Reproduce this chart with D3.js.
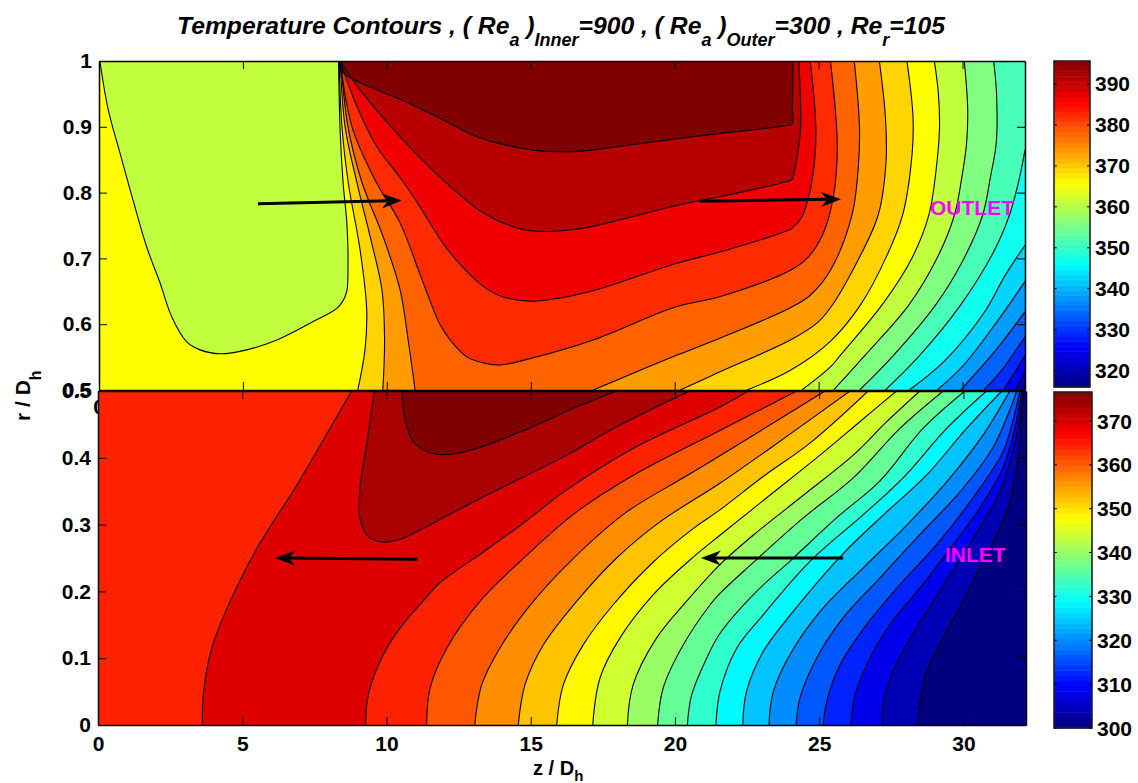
<!DOCTYPE html>
<html>
<head>
<meta charset="utf-8">
<script src="https://cdnjs.cloudflare.com/ajax/libs/d3/7.8.5/d3.min.js"></script>
<style>
html, body { margin: 0; background: #fff; }
svg text { font-family: "Liberation Sans", Arial, sans-serif; font-weight: bold; fill: #000; }
.tick line, .domain { stroke: #000; }
</style>
</head>
<body>
<svg id="chart" width="1138" height="783"></svg>
<script>
// values, all contours are [z/Dh, r/Dh]
const zMax = 32.17;
const zTicks = [0, 5, 10, 15, 20, 25, 30];
const upperRTicks = [0.5, 0.6, 0.7, 0.8, 0.9, 1];
const lowerRTicks = [0, 0.1, 0.2, 0.3, 0.4, 0.5];
const upperBarTicks = [320, 330, 340, 350, 360, 370, 380, 390];
const lowerBarTicks = [300, 310, 320, 330, 340, 350, 360, 370];
const upperRange = [316, 395.6];
const lowerRange = [300, 376.6];

// upper panel (outlet), temperature of each filled band
const upperTemps = [316, 320.4, 324.8, 329.3, 333.7, 338.1, 342.5, 347, 351.4, 355.8, 360.9, 365.75, 369.1, 373.5, 377.9, 382.3, 386.8, 391.2, 395.6];

const u1 = [[32.05,.5],[32.17,.508]];
const u2 = [[31.84,.5],[32.17,.526]];
const u3 = [[31.43,.5],[32.17,.553]];
const u4 = [[30.74,.5],[31.32,.528],[32.17,.581]];
const u5 = [[29.93,.5],[31.2,.563],[32.17,.619]];
const u6 = [[29.12,.5],[30.04,.538],[31.2,.604],[32.17,.665]];
const u7 = [[28.15,.5],[29.35,.543],[30.74,.617],[31.49,.675],[32.17,.72]];
const u8 = [[27.32,.5],[28.48,.551],[29.93,.629],[31.08,.71],[31.63,.766],[31.94,.815],[32.17,.865]];
const u9 = [[26.43,.5],[27.61,.553],[29.06,.629],[29.99,.695],[30.7,.766],[30.97,.824],[31.17,.875],[31.18,.951],[31.08,1]];
const u10 = [[25.52,.5],[26.68,.556],[28.13,.629],[29.12,.701],[29.72,.766],[29.96,.819],[30.14,.875],[30.18,.926],[30.06,1]];
const u11 = [[24.42,.5],[25.41,.535],[25.76,.553],[27.25,.632],[28.25,.701],[28.83,.766],[29.12,.85],[29.2,.9],[29.16,.951],[29.02,1]];

const limeIsland = [[.03,1],[.32,.926],[.73,.86],[1.18,.789],[1.66,.717],[2.12,.663],[2.53,.611],[3.05,.573],[3.51,.561],[4.21,.555],[5.13,.561],[6.18,.576],[7.44,.604],[8.31,.626],[8.59,.647],[8.65,.687],[8.61,.754],[8.48,.815],[8.38,.891],[8.32,1]];

const u12Left = [[8.34,1],[8.44,.9],[8.66,.815],[9.07,.713],[9.3,.622],[9.24,.561],[8.99,.5]];
const u12Right = [[22.51,.5],[24.02,.53],[25.41,.574],[26.45,.629],[27.38,.705],[27.92,.766],[28.25,.86],[28.28,.915],[28.07,1]];
const u13Left = [[8.38,1],[8.55,.9],[8.96,.815],[9.42,.733],[9.83,.652],[9.92,.576],[9.86,.5]];
const u13Right = [[20.19,.5],[21.59,.528],[24.02,.576],[24.95,.602],[25.41,.625],[26.34,.695],[27.07,.766],[27.34,.845],[27.32,.915],[27.11,1]];
const u14Left = [[8.4,1],[8.65,.9],[9.14,.815],[9.87,.733],[10.46,.652],[10.74,.576],[10.98,.5]];
const u14Right = [[17.17,.5],[18.8,.53],[20.02,.552],[21.59,.579],[24.02,.625],[24.71,.644],[25.41,.682],[26.16,.766],[26.38,.839],[26.42,.9],[26.24,1]];
const u15 = [[8.38,1],[8.79,.9],[9.59,.819],[10.46,.754],[11.16,.675],[11.85,.599],[12.2,.576],[12.79,.55],[13.49,.54],[13.94,.538],[15.09,.549],[17.17,.576],[20.02,.626],[21.59,.642],[24.02,.682],[24.64,.702],[25.17,.739],[25.51,.793],[25.65,.865],[25.58,.926],[25.41,1]];
const u16 = [[8.38,1],[8.97,.93],[9.66,.869],[10.46,.823],[11.16,.778],[11.96,.722],[12.55,.691],[13.25,.661],[13.94,.643],[14.98,.635],[16.03,.64],[17.41,.654],[20.02,.692],[21.59,.71],[23.9,.742],[24.08,.746],[24.42,.763],[24.71,.804],[24.89,.865],[24.89,.915],[24.71,1]];
const u17 = [[8.38,1],[9.07,.956],[10.46,.885],[11.96,.819],[13.35,.769],[14.73,.744],[15.67,.741],[16.96,.747],[20.02,.78],[20.89,.788],[21.59,.794],[23.9,.817],[24.08,.82],[24.19,.839],[24.37,.895],[24.31,1]];
const u18 = [[8.32,1],[8.49,.982],[9.66,.956],[10.46,.942],[11.85,.913],[13.25,.883],[14.88,.866],[15.44,.863],[16.73,.863],[17.87,.869],[19.75,.88],[21.59,.89],[23.9,.902],[24.08,.904],[24.09,.93],[24.11,1]];

// lower panel (inlet)
const lowerTemps = [300, 304, 308, 312.1, 316.1, 320.2, 324.2, 328.2, 332.3, 336.3, 340.3, 344.3, 348.4, 352.4, 356.4, 360.5, 364.5, 369.5, 373.4, 376.6];

const l1 = [[28.41,0],[28.49,.035],[28.72,.08],[29.42,.14],[29.98,.185],[30.67,.245],[31.15,.284],[31.61,.334],[31.89,.4],[32.02,.46],[32.08,.5]];
const l2 = [[27.19,0],[27.22,.03],[27.51,.075],[28.15,.13],[28.84,.177],[29.65,.232],[30.57,.295],[31.27,.349],[31.72,.409],[31.96,.46],[32.06,.5]];
const l3 = [[26.1,0],[26.24,.045],[26.64,.09],[27.45,.15],[28.49,.205],[29.64,.27],[30.57,.325],[31.37,.385],[31.79,.445],[32.02,.5]];
const l4 = [[25.14,0],[25.26,.035],[25.72,.09],[26.64,.15],[27.8,.21],[29.07,.27],[30.33,.34],[31.37,.409],[31.8,.47],[31.96,.5]];
const l5 = [[24.2,0],[24.33,.04],[24.91,.1],[25.82,.16],[27.1,.22],[28.49,.285],[29.88,.349],[31.02,.415],[31.85,.5]];
const l6 = [[23.26,0],[23.41,.05],[24.05,.11],[25.13,.175],[26.52,.235],[28.03,.299],[29.42,.364],[30.68,.434],[31.61,.5]];
const l7 = [[22.35,0],[22.48,.05],[23.06,.11],[24.1,.17],[25.84,.257],[27.34,.319],[28.72,.374],[30.11,.444],[31.33,.5]];
const l8 = [[21.42,0],[21.56,.05],[22.14,.115],[23.06,.165],[24.68,.245],[26.53,.315],[27.91,.37],[29.42,.444],[30.8,.5]];
const l9 = [[20.43,0],[20.58,.045],[21.1,.1],[21.56,.137],[22.83,.2],[23.98,.245],[25.6,.31],[27.1,.365],[28.6,.444],[30.05,.5]];
const l10 = [[19.4,0],[19.59,.055],[20.29,.12],[21.22,.18],[21.56,.197],[22.71,.243],[24.45,.31],[26.18,.37],[27.8,.444],[29.3,.5]];
const l11 = [[18.35,0],[18.55,.06],[19.36,.13],[20.4,.185],[21.56,.24],[22.71,.284],[24.45,.344],[26.18,.404],[27.34,.454],[28.49,.5]];
const l12 = [[17.15,0],[17.4,.07],[18.09,.13],[19.25,.195],[20.52,.247],[21.56,.284],[23.29,.344],[25.03,.404],[26.41,.454],[27.68,.5]];
const l13 = [[15.9,0],[16.13,.06],[16.82,.12],[17.86,.18],[19.25,.244],[20.63,.294],[21.56,.322],[23.06,.372],[24.68,.422],[26.7,.5]];
const l14 = [[14.57,0],[14.8,.06],[15.44,.12],[16.59,.185],[17.98,.25],[19.48,.304],[21.56,.362],[23.29,.414],[26.07,.5]];
const l15 = [[13.06,0],[13.3,.06],[13.93,.115],[15.09,.185],[16.59,.254],[18.33,.319],[20.29,.37],[21.56,.403],[23.29,.449],[25.2,.5]];
const l16 = [[11.39,0],[11.51,.055],[12.09,.115],[13.24,.185],[14.86,.254],[16.59,.319],[18.56,.374],[21.56,.441],[24.22,.5]];
const l17Left = [[3.62,0],[3.65,.045],[3.94,.115],[4.58,.185],[5.5,.264],[6.89,.359],[8.04,.444],[8.79,.5]];
const l17Right = [[22.54,.5],[21.56,.476],[18.55,.414],[16.25,.352],[14.74,.302],[13.36,.259],[11.86,.213],[11.16,.18],[10.47,.145],[9.89,.105],[9.37,.045],[9.28,0]];
const l18 = [[9.58,.5],[9.31,.419],[9.08,.354],[9.08,.309],[9.37,.282],[9.83,.274],[10.47,.278],[11.16,.292],[13.01,.334],[14.17,.359],[16.25,.404],[18.09,.449],[20.52,.5]];
const l19 = [[10.53,.5],[10.64,.459],[10.93,.424],[11.62,.406],[12.37,.406],[13.47,.419],[15.09,.447],[16.48,.474],[17.98,.5]];

// arrows: from, to
const upperArrows = [[[5.52,.783],[10.52,.788]], [[20.86,.787],[25.78,.79]]];
const lowerArrows = [[[11.08,.248],[6.14,.25]], [[25.83,.25],[20.9,.25]]];

const titleParts = [
    ["Temperature Contours , ( Re", false], ["a", true], [" )", false], ["Inner", true],
    ["=900 , ( Re", false], ["a", true], [" )", false], ["Outer", true],
    ["=300 , Re", false], ["r", true], ["=105", false]
];

const jet = d3.scaleLinear()
    .domain([0, .125, .375, .625, .875, 1])
    .range(["#000080", "#0000ff", "#00ffff", "#ffff00", "#ff0000", "#800000"]);

const svg = d3.select("#chart");

const upper = {
    x: d3.scaleLinear().domain([0, zMax]).range([99, 1025]),
    y: d3.scaleLinear().domain([0.5, 1]).range([390, 61]),
    temp: d3.scaleLinear().domain(upperRange).range([0, 1]),
    rTop: 1, rBot: 0.5, id: "clipUpper"
};
const lower = {
    x: d3.scaleLinear().domain([0, zMax]).range([98, 1026]),
    y: d3.scaleLinear().domain([0, 0.5]).range([725, 391]),
    temp: d3.scaleLinear().domain(lowerRange).range([0, 1]),
    rTop: 0.5, rBot: 0, id: "clipLower"
};

function curveOf(p) {
    return d3.line().x(d => p.x(d[0])).y(d => p.y(d[1])).curve(d3.curveCatmullRom.alpha(0.5));
}

// join open curves into one closed outline, extra points are plain corners
function outline(p, parts, corners) {
    const gen = curveOf(p);
    let s = parts.map((c, i) => i ? "L" + gen(c).slice(1) : gen(c)).join("");
    (corners || []).forEach(c => { s += `L${p.x(c[0])},${p.y(c[1])}`; });
    return s + "Z";
}

function drawBand(g, p, temp, parts, corners) {
    g.append("path").attr("d", outline(p, parts, corners)).attr("fill", jet(p.temp(temp))).attr("stroke", "none");
}

function drawLines(g, p, lines) {
    g.selectAll("path.line").data(lines).enter().append("path")
        .attr("class", "line")
        .attr("d", curveOf(p))
        .attr("fill", "none")
        .attr("stroke", "#000")
        .attr("stroke-width", 1.1);
}

function setupPanel(p) {
    svg.append("clipPath").attr("id", p.id).append("rect")
        .attr("x", p.x.range()[0]).attr("y", p.y.range()[1])
        .attr("width", p.x.range()[1] - p.x.range()[0])
        .attr("height", p.y.range()[0] - p.y.range()[1]);
    const g = svg.append("g").attr("clip-path", `url(#${p.id})`);
    g.append("rect")
        .attr("x", p.x.range()[0]).attr("y", p.y.range()[1])
        .attr("width", p.x.range()[1] - p.x.range()[0])
        .attr("height", p.y.range()[0] - p.y.range()[1])
        .attr("fill", jet(0));
    return g;
}

// region on the left of a contour, closed round the panel corners
function leftCorners(p, line) {
    const last = line[line.length - 1];
    const c = [[0, p.rTop], [0, p.rBot]];
    if (last[0] >= zMax) c.unshift([zMax, p.rTop]);
    return c;
}

function drawArrows(p, arrows) {
    arrows.forEach(a => {
        const x0 = p.x(a[0][0]), y0 = p.y(a[0][1]), x1 = p.x(a[1][0]), y1 = p.y(a[1][1]);
        const ang = Math.atan2(y1 - y0, x1 - x0);
        svg.append("line").attr("x1", x0).attr("y1", y0)
            .attr("x2", x1 - 12 * Math.cos(ang)).attr("y2", y1 - 12 * Math.sin(ang))
            .attr("stroke", "#000").attr("stroke-width", 3);
        const pt = (back, side) => [
            x1 - back * Math.cos(ang) - side * Math.sin(ang),
            y1 - back * Math.sin(ang) + side * Math.cos(ang)
        ];
        svg.append("polygon")
            .attr("points", [[x1, y1], pt(20, 7.5), pt(14, 0), pt(20, -7.5)].map(d => d.join(",")).join(" "))
            .attr("fill", "#000");
    });
}

function drawFrame(p, rTicks, rFormat, showZLabels) {
    const bottom = d3.axisBottom(p.x).tickValues(zTicks).tickSize(-8).tickSizeOuter(0).tickFormat(showZLabels ? d3.format("d") : "").tickPadding(11);
    const top = d3.axisTop(p.x).tickValues(zTicks).tickSize(-8).tickSizeOuter(0).tickFormat("");
    const left = d3.axisLeft(p.y).tickValues(rTicks).tickSize(-8).tickSizeOuter(0).tickFormat(rFormat).tickPadding(7);
    const right = d3.axisRight(p.y).tickValues(rTicks).tickSize(-8).tickSizeOuter(0).tickFormat("");
    const [xa, xb] = p.x.range();
    const [yb, ya] = p.y.range();
    [
        [bottom, `translate(0,${yb})`], [top, `translate(0,${ya})`],
        [left, `translate(${xa},0)`], [right, `translate(${xb},0)`]
    ].forEach(([axis, tr]) => {
        const g = svg.append("g").attr("transform", tr).call(axis);
        g.select(".domain").attr("stroke-width", 1.5);
        g.selectAll(".tick line").attr("stroke-width", 1);
        g.selectAll("text").style("font-size", "21px");
    });
}

function drawBar(x0, x1, y0, y1, domain, ticks, labelX) {
    const y = d3.scaleLinear().domain(domain).range([y1, y0]);
    const t = d3.scaleLinear().domain(domain).range([0, 1]);
    const steps = d3.range(64);
    const val = i => domain[0] + (domain[1] - domain[0]) * i / 64;
    svg.append("g").selectAll("rect").data(steps).enter().append("rect")
        .attr("x", x0).attr("width", x1 - x0)
        .attr("y", i => y(val(i + 1)))
        .attr("height", i => y(val(i)) - y(val(i + 1)) + 0.5)
        .attr("fill", i => jet(t(val(i + 0.5))));
    svg.append("rect").attr("x", x0).attr("y", y0).attr("width", x1 - x0).attr("height", y1 - y0)
        .attr("fill", "none").attr("stroke", "#222").attr("stroke-width", 1.6);
    ticks.forEach(v => {
        svg.append("line").attr("x1", x0).attr("x2", x0 + 3).attr("y1", y(v)).attr("y2", y(v)).attr("stroke", "#000");
        svg.append("line").attr("x1", x1 - 3).attr("x2", x1).attr("y1", y(v)).attr("y2", y(v)).attr("stroke", "#000");
        svg.append("text").attr("x", labelX).attr("y", y(v)).attr("dy", "0.36em")
            .style("font-size", "21px").text(v);
    });
}

// --- upper panel
const ug = setupPanel(upper);
const upperCold = [u1, u2, u3, u4, u5, u6, u7, u8, u9, u10, u11];
upperCold.forEach((line, i) => drawBand(ug, upper, upperTemps[i + 1], [line], leftCorners(upper, line)));
drawBand(ug, upper, upperTemps[10], [limeIsland]);
drawBand(ug, upper, upperTemps[12], [u12Left, u12Right]);
drawBand(ug, upper, upperTemps[13], [u13Left, u13Right]);
drawBand(ug, upper, upperTemps[14], [u14Left, u14Right]);
drawBand(ug, upper, upperTemps[15], [u15]);
drawBand(ug, upper, upperTemps[16], [u16]);
drawBand(ug, upper, upperTemps[17], [u17]);
drawBand(ug, upper, upperTemps[18], [u18]);
drawLines(ug, upper, upperCold.concat([limeIsland, u12Left, u12Right, u13Left, u13Right, u14Left, u14Right, u15, u16, u17, u18]));
drawFrame(upper, upperRTicks, d3.format(".1~f"), false);

// zero of the upper x axis, mostly hidden by the lower panel
svg.append("text").attr("x", upper.x(0)).attr("y", 414).attr("text-anchor", "middle")
    .style("font-size", "21px").text("0");

// --- lower panel
const lg = setupPanel(lower);
const lowerCold = [l1, l2, l3, l4, l5, l6, l7, l8, l9, l10, l11, l12, l13, l14, l15, l16];
lowerCold.forEach((line, i) => drawBand(lg, lower, lowerTemps[i + 1], [line], leftCorners(lower, line)));
drawBand(lg, lower, lowerTemps[17], [l17Left, l17Right]);
drawBand(lg, lower, lowerTemps[18], [l18]);
drawBand(lg, lower, lowerTemps[19], [l19]);
drawLines(lg, lower, lowerCold.concat([l17Left, l17Right, l18, l19]));
drawFrame(lower, lowerRTicks, d3.format(".1~f"), true);

drawArrows(upper, upperArrows);
drawArrows(lower, lowerArrows);

// --- labels
const title = svg.append("text").attr("x", 177).attr("y", 34).style("font-style", "italic").style("font-size", "24.7px");
let wasSub = false;
titleParts.forEach(([txt, sub]) => {
    const ts = title.append("tspan").text(txt).style("font-size", sub ? "18px" : "24.7px");
    if (sub !== wasSub) ts.attr("dy", sub ? 12 : -12);
    wasSub = sub;
});

const zLabel = svg.append("text").attr("x", 533).attr("y", 775).style("font-size", "20px");
zLabel.append("tspan").text("z / D");
zLabel.append("tspan").text("h").attr("dy", 6).style("font-size", "15px");

const rLabel = svg.append("text").attr("transform", "translate(30,421) rotate(-90)").style("font-size", "21px");
rLabel.append("tspan").text("r / D");
rLabel.append("tspan").text("h").attr("dy", 11).style("font-size", "16px");

svg.append("text").attr("x", 930).attr("y", 215).style("font-size", "21px").style("fill", "#ff00ff").text("OUTLET");
svg.append("text").attr("x", 945).attr("y", 562).style("font-size", "21px").style("fill", "#ff00ff").text("INLET");

// --- colour bars
drawBar(1054, 1090, 61, 387, upperRange, upperBarTicks, 1095);
drawBar(1054, 1092, 392, 728, lowerRange, lowerBarTicks, 1097);
</script>
</body>
</html>
